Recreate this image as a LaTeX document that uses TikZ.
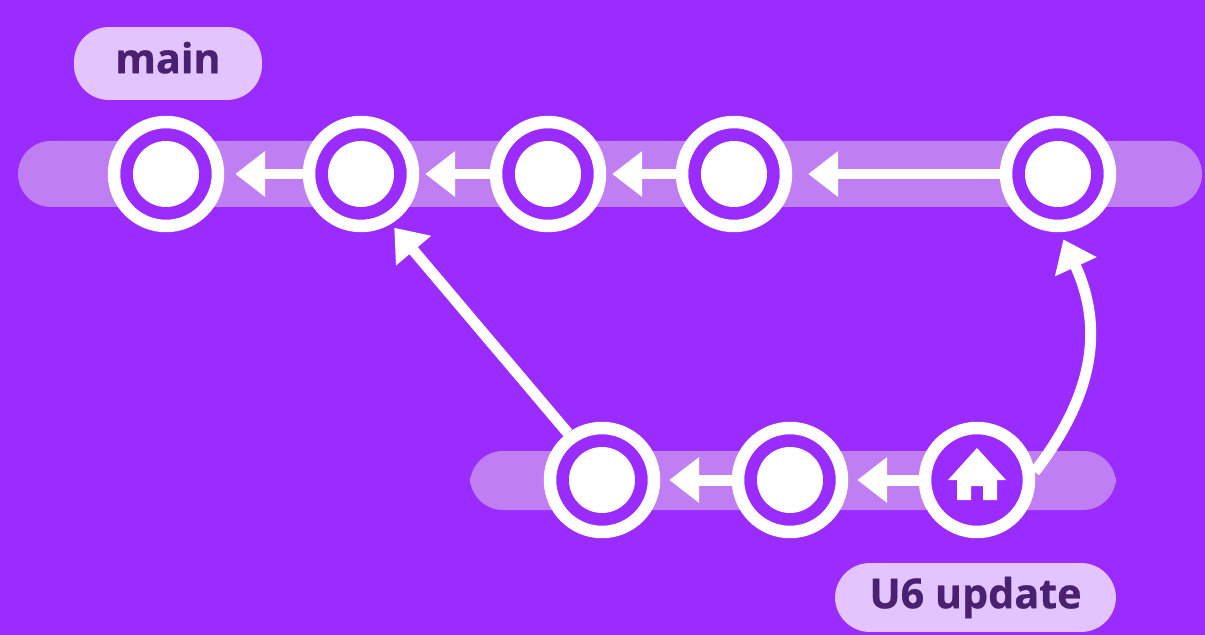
\documentclass[tikz,border=0pt]{standalone}
\usepackage{fontspec}
\setmainfont{Open Sans}[BoldFeatures={FakeBold=.7}]
\usepackage{xcolor}
\usetikzlibrary{arrows.meta}
\definecolor{bgpurple}{HTML}{9B2CFF}
\definecolor{bandpurple}{HTML}{BF7FF2}
\definecolor{pillpurple}{HTML}{E3C4FF}
\definecolor{textpurple}{HTML}{4A2070}
\tikzset{
    ring/.style={circle,draw=white,fill=bgpurple,line width=.25cm,minimum size=2.08cm,inner sep=0pt},
    commit/.style={ring,path picture={\fill[white] (path picture bounding box.center) circle (33);}},
    band/.style={fill=bandpurple,rounded corners=.66cm},
    pill/.style={fill=pillpurple,rounded corners=.7cm,text=textpurple,font=\bfseries\fontsize{23.5}{23.5}\selectfont,inner sep=0pt},
    link/.style={draw=white,line width=.22cm,-{Triangle[length=.6cm,width=.88cm]}},
}
\begin{document}
\begin{tikzpicture}[x=.02cm,y=-.02cm]
    \useasboundingbox[fill=bgpurple] (0,0) rectangle (1205,635);
    \fill[band] (18,141) rectangle (1202,207);
    \fill[band] (470,451) rectangle (1116,510);
    % main line
    \node[commit] (m1) at (166,174) {};
    \node[commit] (m2) at (361,174) {};
    \node[commit] (m3) at (548,174) {};
    \node[commit] (m4) at (734,174) {};
    \node[commit] (m5) at (1058,174) {};
    % update line
    \node[commit] (u1) at (602,480) {};
    \node[commit] (u2) at (790,480) {};
    \node[ring] (home) at (977,480) {};
    \fill[white,shift={(home.center)}] (0,-32) -- (29,0) -- (20,0) -- (20,20) -- (6,20) -- (6,6)
        -- (-6,6) -- (-6,20) -- (-20,20) -- (-20,0) -- (-29,0) -- cycle;
    % labels
    \node[pill,minimum width=3.76cm,minimum height=1.46cm,text depth=.24cm] (mainlabel) at (168,63.5) {main};
    \node[pill,minimum width=5.62cm,minimum height=1.38cm] (updatelabel) at (975.5,597.5) {U6 update};
    % links
    \foreach \from/\to/\gap in {m2/m1/.22,m3/m2/.12,m4/m3/.12,m5/m4/.32,u2/u1/.18,home/u2/.18}
        \draw[link,shorten >=\gap cm] (\from.west) -- (\to.east);
    \draw[link,shorten >=.1cm] (u1.126) -- (m2.-59);
    \draw[link,shorten >=.16cm] (home.8) .. controls (1094,395) and (1104,328) .. (m5.-88);
\end{tikzpicture}
\end{document}
